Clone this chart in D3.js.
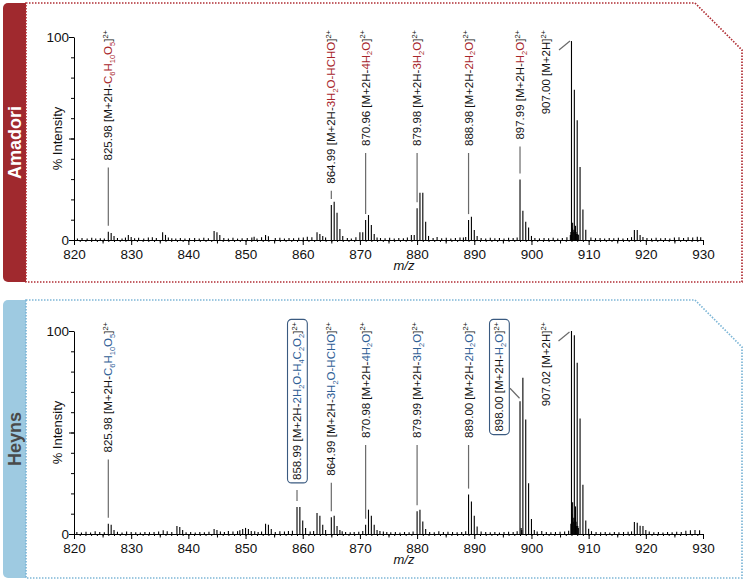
<!DOCTYPE html>
<html>
<head>
<meta charset="utf-8">
<script src="https://cdn.jsdelivr.net/npm/d3@7"></script>
<style>
  body { margin: 0; background: #fff; }
  svg { display: block; font-family: "Liberation Sans", Arial, sans-serif; }
</style>
</head>
<body>
<div id="chart"></div>
<script>
// ---- data: [m/z, % intensity] ----
const xTicks = [820, 830, 840, 850, 860, 870, 880, 890, 900, 910, 920, 930];

const amadoriPeaks = [
  [826.0, 4.1], [826.5, 3.5], [827.0, 2.0],
  [829.5, 2.5], [830.0, 1.5],
  [835.5, 3.8], [836.0, 2.5], [836.5, 1.2],
  [844.5, 4.4], [845.0, 3.8], [845.5, 2.5],
  [851.5, 1.6], [853.5, 2.5], [854.0, 1.8],
  [862.5, 3.8], [863.0, 3.0], [863.5, 2.0], [864.0, 1.2],
  [865.0, 17.2], [865.5, 18.9], [866.0, 13.4], [866.5, 5.4], [867.0, 2.0],
  [870.0, 3.8], [870.5, 3.8], [871.0, 9.8], [871.5, 12.3], [872.0, 7.4], [872.5, 3.0], [873.0, 1.2],
  [879.0, 2.5], [879.5, 2.5], [880.0, 15.6], [880.5, 23.3], [881.0, 23.3], [881.5, 9.0], [882.0, 2.0],
  [888.5, 1.5], [889.0, 9.8], [889.5, 11.5], [890.0, 4.9], [890.5, 2.0],
  [898.0, 29.8], [898.5, 14.4], [899.0, 9.0], [899.5, 6.2], [900.0, 2.0],
  [906.8, 2.5], [906.9, 4.0], [907.0, 98.0], [907.1, 6.0], [907.2, 8.5], [907.3, 5.0], [907.4, 4.0],
  [907.5, 74.0], [907.6, 5.0], [907.7, 7.0], [907.8, 4.0], [907.9, 3.0], [908.0, 59.0], [908.1, 3.0],
  [908.2, 2.5], [908.5, 36.0], [909.0, 15.0], [909.5, 5.0],
  [918.0, 4.9], [918.5, 4.9], [919.0, 2.5], [919.5, 1.5]
];

const amadoriNoise = [
  [820.6, 0.8], [821.4, 1.0], [822.3, 0.7], [823.1, 1.1], [823.8, 0.8], [824.6, 0.9], [825.3, 0.7],
  [827.6, 1.0], [828.4, 0.8], [829.0, 1.2], [830.6, 0.9], [831.3, 1.1], [832.2, 0.8], [833.0, 1.2],
  [833.7, 1.4], [834.4, 1.0], [837.1, 0.9], [837.8, 0.8], [838.6, 1.0], [839.4, 0.7], [840.2, 0.9],
  [841.1, 1.0], [841.9, 0.8], [842.7, 1.1], [843.5, 0.9], [846.2, 1.0], [847.0, 0.8], [847.8, 1.1],
  [848.6, 0.7], [849.4, 0.9], [850.3, 1.0], [851.1, 1.2], [852.0, 0.8], [852.8, 1.4], [855.2, 1.0],
  [856.0, 1.1], [856.8, 0.8], [857.6, 1.0], [858.4, 0.9], [859.3, 1.1], [860.1, 1.2], [860.8, 1.6],
  [861.6, 1.4], [867.8, 1.0], [868.5, 0.8], [869.3, 1.4], [873.6, 1.0], [874.4, 0.9], [875.2, 1.1],
  [876.0, 0.8], [876.8, 1.0], [877.6, 0.9], [878.3, 1.2], [882.8, 1.0], [883.5, 1.5], [884.3, 0.9],
  [885.1, 1.1], [885.9, 0.8], [886.7, 1.0], [887.5, 1.2], [888.1, 1.2], [891.2, 1.0], [892.0, 0.8],
  [892.8, 1.1], [893.6, 0.9], [894.4, 1.0], [895.2, 0.8], [896.0, 1.1], [896.8, 1.0], [897.5, 1.2],
  [900.6, 1.0], [901.4, 0.8], [902.2, 1.0], [903.0, 0.9], [903.8, 1.1], [904.6, 0.8], [905.4, 1.0],
  [906.2, 1.3], [910.4, 1.2], [911.2, 0.9], [912.0, 1.0], [912.8, 0.8], [913.6, 1.0], [914.4, 0.9],
  [915.2, 1.1], [916.0, 0.8], [916.8, 1.0], [917.5, 1.4], [920.2, 1.0], [921.0, 0.8], [921.8, 1.1],
  [922.6, 0.9], [923.4, 1.0], [924.2, 0.8], [925.0, 1.2], [925.8, 1.3], [926.6, 1.0], [927.4, 1.4],
  [928.2, 1.2], [929.0, 1.6], [929.6, 1.4]
];

const heynsPeaks = [
  [826.0, 5.0], [826.5, 4.6], [827.0, 2.0],
  [838.0, 4.0], [838.5, 3.5], [839.0, 2.0],
  [844.5, 2.5], [845.0, 2.0],
  [849.5, 2.5], [850.0, 3.0], [850.5, 2.5], [851.0, 1.5],
  [853.5, 5.0], [854.0, 4.6], [854.5, 2.5],
  [859.0, 13.3], [859.5, 13.3], [860.0, 6.6], [860.5, 3.0],
  [862.5, 10.4], [863.0, 9.0], [863.5, 4.6], [864.0, 2.0],
  [865.0, 8.2], [865.5, 9.0], [866.0, 4.0], [866.5, 2.0],
  [871.0, 4.6], [871.5, 12.0], [872.0, 9.0], [872.5, 4.6], [873.0, 2.0], [873.5, 1.5],
  [880.0, 11.2], [880.5, 12.0], [881.0, 6.2], [881.5, 2.5],
  [889.0, 19.4], [889.5, 16.0], [890.0, 9.0], [890.5, 3.7],
  [898.0, 65.4], [898.2, 3.0], [898.3, 2.0], [898.5, 77.0], [899.0, 56.4], [899.5, 25.0], [900.0, 7.4], [900.5, 2.0],
  [906.9, 5.0], [907.0, 100.0], [907.1, 10.0], [907.2, 15.6], [907.3, 8.0], [907.4, 6.0], [907.5, 97.9],
  [907.6, 8.0], [907.7, 13.6], [907.8, 6.0], [907.9, 4.0], [908.0, 84.4], [908.1, 4.0], [908.2, 3.0],
  [908.5, 56.9], [909.0, 24.3], [909.5, 6.6], [910.0, 2.6],
  [918.0, 5.9], [918.5, 5.5], [919.0, 4.1], [919.5, 4.0], [920.0, 2.0]
];

const heynsNoise = [
  [820.5, 1.0], [821.3, 0.8], [822.1, 1.1], [822.9, 0.7], [823.7, 1.4], [824.5, 1.0], [825.3, 0.9],
  [827.6, 1.1], [828.4, 0.8], [829.2, 1.2], [830.0, 1.0], [830.8, 0.9], [831.6, 0.8], [832.4, 1.0],
  [833.2, 0.9], [834.0, 1.0], [834.8, 1.2], [835.6, 1.8], [836.3, 1.4], [837.1, 1.0], [839.6, 0.9],
  [840.4, 1.0], [841.2, 0.8], [842.0, 1.0], [842.8, 0.9], [843.6, 1.1], [845.6, 1.2], [846.3, 1.0],
  [847.0, 1.5], [847.8, 1.2], [848.6, 1.4], [849.0, 1.8], [851.6, 1.4], [852.2, 1.0], [852.8, 1.2],
  [855.2, 1.0], [856.0, 1.4], [856.8, 1.2], [857.5, 1.5], [858.2, 1.6], [861.3, 1.2], [861.9, 1.5],
  [866.9, 1.3], [867.5, 1.0], [868.3, 0.9], [869.0, 1.0], [869.8, 1.1], [870.5, 1.5], [874.1, 1.2],
  [874.7, 1.0], [875.4, 0.9], [876.2, 1.0], [877.0, 0.8], [877.8, 1.0], [878.6, 0.9], [879.3, 1.2],
  [882.2, 1.0], [883.0, 0.9], [883.8, 1.4], [884.6, 1.0], [885.4, 1.1], [886.2, 1.0], [887.0, 0.9],
  [887.8, 1.0], [888.5, 1.3], [891.2, 1.2], [892.0, 1.0], [892.8, 0.9], [893.6, 1.0], [894.4, 0.8],
  [895.2, 1.0], [896.0, 1.1], [896.8, 1.0], [897.5, 1.4], [901.0, 1.2], [901.8, 1.5], [902.6, 1.0],
  [903.4, 0.9], [904.2, 1.0], [905.0, 1.1], [905.8, 1.2], [906.5, 1.6], [910.5, 1.4], [911.3, 1.0],
  [912.1, 0.9], [912.9, 1.0], [913.7, 0.8], [914.5, 1.0], [915.3, 0.9], [916.1, 1.0], [916.9, 1.1],
  [917.5, 1.3], [920.6, 1.2], [921.4, 0.9], [922.2, 1.0], [923.0, 0.8], [923.8, 1.0], [924.6, 0.9],
  [925.4, 1.1], [926.2, 1.0], [927.0, 1.6], [927.8, 1.8], [928.6, 2.0], [929.4, 1.8]
];

// ion labels: {...} = coloured loss, _n = subscript, ^ = superscript
const amadoriLabels = [
  { mz: "825.98", ion: "[M+2H-{C_6H_10O_5}]^2+" },
  { mz: "864.99", ion: "[M+2H-{3H_2O-HCHO}]^2+" },
  { mz: "870.96", ion: "[M+2H-{4H_2O}]^2+" },
  { mz: "879.98", ion: "[M+2H-{3H_2O}]^2+" },
  { mz: "888.98", ion: "[M+2H-{2H_2O}]^2+" },
  { mz: "897.99", ion: "[M+2H-{H_2O}]^2+" },
  { mz: "907.00", ion: "[M+2H]^2+" }
];

const heynsLabels = [
  { mz: "825.98", ion: "[M+2H-{C_6H_10O_5}]^2+" },
  { mz: "858.99", ion: "[M+2H-{2H_2O-H_4C_2O_2}]^2+" },
  { mz: "864.99", ion: "[M+2H-{3H_2O-HCHO}]^2+" },
  { mz: "870.98", ion: "[M+2H-{4H_2O}]^2+" },
  { mz: "879.99", ion: "[M+2H-{3H_2O}]^2+" },
  { mz: "889.00", ion: "[M+2H-{2H_2O}]^2+" },
  { mz: "898.00", ion: "[M+2H-{H_2O}]^2+" },
  { mz: "907.02", ion: "[M+2H]^2+" }
];
const heynsHighlighted = ["858.99", "898.00"];

// ---- drawing ----
const width = 749, height = 582;
const svg = d3.select("#chart").append("svg")
    .attr("width", width)
    .attr("height", height);

// where the leader line is slanted instead of vertical (no room above the peak)
const slantLeaders = {
  "907.00": { tx: -25, from: [-12.5, 9], to: [-1.5, 0] },
  "907.02": { tx: -25, from: [-13, 10], to: [-2, 1] },
  "898.00": { tx: -21, from: [-10, -13], to: [-0.5, -3] }
};

const panels = [
  { name: "Amadori", top: 3, bottom: 282, y0: 240, y100: 37, labelTop: 30,
    tab: "#a0292e", tabText: "#ffffff", border: "#b02e34", accent: "#a8262b",
    peaks: amadoriPeaks, noise: amadoriNoise, labels: amadoriLabels, boxed: [] },
  { name: "Heyns", top: 300, bottom: 578, y0: 534, y100: 331, labelTop: 322,
    tab: "#9ecae1", tabText: "#4a4a4a", border: "#7db6d6", accent: "#2f6096",
    peaks: heynsPeaks, noise: heynsNoise, labels: heynsLabels, boxed: heynsHighlighted }
];

function parseIon(str) {
  const segs = [];
  let colored = false, buf = "";
  const flush = () => { if (buf) segs.push({ t: buf, c: colored, s: null }); buf = ""; };
  for (let i = 0; i < str.length; i++) {
    const ch = str[i];
    if (ch === "{") { flush(); colored = true; }
    else if (ch === "}") { flush(); colored = false; }
    else if (ch === "_") {
      flush();
      let n = "";
      while (i + 1 < str.length && /[0-9]/.test(str[i + 1])) n += str[++i];
      segs.push({ t: n, c: colored, s: "sub" });
    } else if (ch === "^") {
      flush();
      segs.push({ t: str.slice(i + 1), c: false, s: "sup" });
      break;
    } else buf += ch;
  }
  flush();
  return segs;
}

function drawPanel(p) {
  const x = d3.scaleLinear().domain([820, 930]).range([74, 703]);
  const y = d3.scaleLinear().domain([0, 100]).range([p.y0, p.y100]);
  const g = svg.append("g");

  // side tab
  g.append("path")
      .attr("d", `M26,${p.top}H8a5,5 0 0 0 -5,5V${p.bottom - 5}a5,5 0 0 0 5,5H26Z`)
      .attr("fill", p.tab);
  g.append("text")
      .attr("transform", `translate(14.5,${(p.top + p.bottom) / 2}) rotate(-90)`)
      .attr("text-anchor", "middle")
      .attr("dy", "0.35em")
      .attr("font-size", 18)
      .attr("font-weight", "bold")
      .attr("fill", p.tabText)
      .text(p.name);

  // dotted frame with cut corner
  g.append("path")
      .attr("d", `M26,${p.top}H695L742,${p.top + 47}V${p.bottom}H26Z`)
      .attr("fill", "none")
      .attr("stroke", p.border)
      .attr("stroke-width", 1.7)
      .attr("stroke-dasharray", "1.5,1.5");

  // sticks
  g.append("g")
      .attr("stroke", "#000")
      .attr("stroke-width", 1.1)
      .selectAll("line")
      .data(p.noise.concat(p.peaks))
      .join("line")
      .attr("x1", d => x(d[0]))
      .attr("x2", d => x(d[0]))
      .attr("y1", y(0))
      .attr("y2", d => y(d[1]));

  // x axis
  g.append("g")
      .attr("transform", `translate(0,${p.y0})`)
      .call(d3.axisBottom(x).tickValues(d3.range(820, 931, 1)).tickSize(2).tickFormat(""));
  g.append("g")
      .attr("transform", `translate(0,${p.y0})`)
      .call(d3.axisBottom(x).tickValues(d3.range(825, 930, 10)).tickSize(3.5).tickFormat(""));
  g.append("g")
      .attr("transform", `translate(0,${p.y0})`)
      .call(d3.axisBottom(x).tickValues(xTicks).tickSize(5).tickPadding(4).tickSizeOuter(0))
      .call(a => a.selectAll("text").attr("font-size", 13.5).attr("fill", "#111")
                  .attr("font-family", null));

  // y axis
  g.append("g")
      .attr("transform", "translate(74,0)")
      .call(d3.axisLeft(y).tickValues(d3.range(10, 100, 10)).tickSize(3).tickFormat(""))
      .call(a => a.select(".domain").remove());
  g.append("g")
      .attr("transform", "translate(74,0)")
      .call(d3.axisLeft(y).tickValues([0, 50, 100]).tickSize(5).tickPadding(0).tickSizeOuter(0)
              .tickFormat(d => d === 50 ? "" : d))
      .call(a => a.selectAll("text").attr("font-size", 13.5).attr("fill", "#111")
                  .attr("font-family", null));
  svg.selectAll(".domain, .tick line").attr("stroke", "#000");

  g.append("text")
      .attr("transform", `translate(57.5,${y(50)}) rotate(-90)`)
      .attr("text-anchor", "middle")
      .attr("dy", "0.35em")
      .attr("font-size", 13)
      .attr("fill", "#111")
      .text("% Intensity");

  g.append("text")
      .attr("x", 404)
      .attr("y", p.y0 + 30)
      .attr("text-anchor", "middle")
      .attr("font-size", 13)
      .attr("font-style", "italic")
      .attr("fill", "#111")
      .text("m/z");

  // annotations
  p.labels.forEach(l => {
    const target = p.peaks.reduce((a, b) =>
        Math.abs(b[0] - +l.mz) < Math.abs(a[0] - +l.mz) ? b : a);
    const px = x(target[0]), pTop = y(target[1]);
    const slant = slantLeaders[l.mz];
    const tx = px + (slant ? slant.tx : 0);

    const lg = g.append("g")
        .attr("transform", `translate(${tx},${p.labelTop}) rotate(-90)`);
    const text = lg.append("text")
        .attr("text-anchor", "end")
        .attr("y", 4)
        .attr("font-size", 11.5)
        .attr("fill", "#111");
    let cur = 0;
    [{ t: l.mz + " ", c: false, s: null }].concat(parseIon(l.ion)).forEach(s => {
      const shift = s.s === "sub" ? 2.8 : s.s === "sup" ? -4.5 : 0;
      text.append("tspan")
          .attr("dy", shift - cur)
          .attr("font-size", s.s ? 7.5 : null)
          .attr("fill", s.c ? p.accent : null)
          .text(s.t);
      cur = shift;
    });
    const bb = text.node().getBBox();
    let bottom = p.labelTop - bb.x;
    if (p.boxed.includes(l.mz)) {
      lg.append("rect")
          .attr("x", bb.x - 3)
          .attr("y", bb.y - 2)
          .attr("width", bb.width + 5)
          .attr("height", bb.height + 3.5)
          .attr("rx", 4)
          .attr("fill", "none")
          .attr("stroke", "#3a5a80")
          .attr("stroke-width", 1.1);
      bottom += 3;
    }

    const leader = g.append("line")
        .attr("stroke", "#6a6a6a")
        .attr("stroke-width", 1.2);
    if (slant) {
      leader.attr("x1", px + slant.from[0]).attr("y1", pTop + slant.from[1])
            .attr("x2", px + slant.to[0]).attr("y2", pTop + slant.to[1]);
    } else {
      leader.attr("x1", px).attr("x2", px)
            .attr("y1", bottom + 7)
            .attr("y2", pTop - 6);
    }
  });
}

panels.forEach(drawPanel);
</script>
</body>
</html>
